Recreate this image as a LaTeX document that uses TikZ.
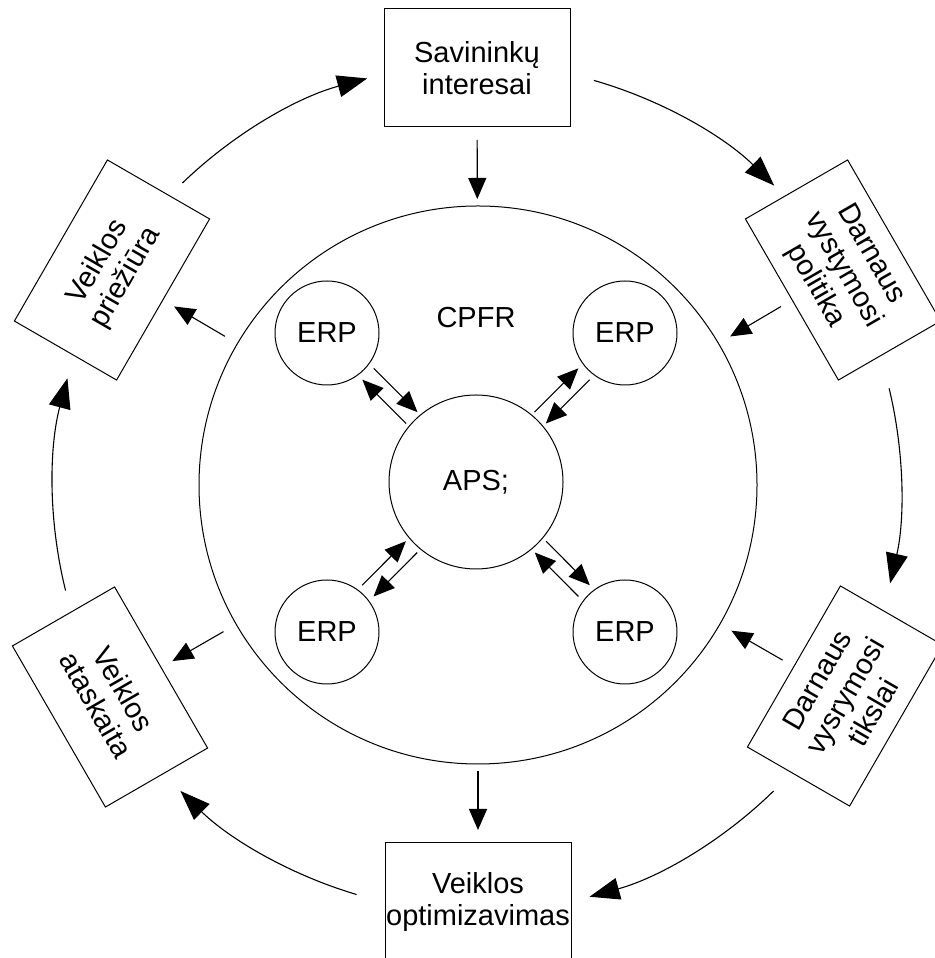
\documentclass[tikz,border=0pt]{standalone}
\usepackage{fontspec}
\setmainfont{Liberation Sans}
\usetikzlibrary{arrows.meta,calc}
\begin{document}
\begin{tikzpicture}[x=1pt,y=1pt,
  box/.style={draw, line width=1pt, minimum width=186pt, minimum height=118pt, align=center, inner sep=0pt, font=\fontsize{29}{32}\selectfont},
  circ/.style={draw, circle, line width=1pt, inner sep=0pt, font=\fontsize{29}{31}\selectfont},
  sa/.style={line width=1.1pt, -{Triangle[length=21pt,width=18pt]}},
  la/.style={line width=1.1pt, -{Triangle[length=30pt,width=22pt]}}]
\useasboundingbox (0,0) rectangle (934,958);
% outer boxes
\node[box] (b1) at (477,890) {Savininkų\\interesai};
\node[box, rotate=-60] (b2) at (843,688) {Darnaus\\vystymosi\\politika};
\node[box, rotate=60] (b3) at (845,262) {Darnaus\\vysrymosi\\tikslai};
\node[box] (b4) at (478,56) {Veiklos\\optimizavimas};
\node[box, rotate=-60] (b5) at (110,261) {Veiklos\\ataskaita};
\node[box, rotate=60] (b6) at (112,688) {Veiklos\\priežiūra};
% circles
\node[circ, minimum size=558pt] (big) at (478,473) {};
\node[font=\fontsize{29}{31}\selectfont] (cpfr) at (476,640) {CPFR};
\node[circ, minimum size=174pt] (aps) at (476,476) {APS;};
\node[circ, minimum size=104pt] (e1) at (327,625) {ERP};
\node[circ, minimum size=104pt] (e2) at (625,625) {ERP};
\node[circ, minimum size=104pt] (e3) at (327,326) {ERP};
\node[circ, minimum size=104pt] (e4) at (625,326) {ERP};
% ERP <-> APS arrows
\foreach \e in {e1,e2,e3,e4}{
  \draw[sa] ($(\e)!58pt!(aps)!8pt!90:(aps)$) -- ($(\e)!120pt!(aps)!8pt!90:(aps)$);
  \draw[sa] ($(\e)!120pt!(aps)!8pt!-90:(aps)$) -- ($(\e)!58pt!(aps)!8pt!-90:(aps)$);
}
% box <-> circle arrows
\foreach \b in {b1,b2,b3}{
  \draw[sa] ($(\b)!72pt!(big)$) -- ($(\b)!131pt!(big)$);
}
\foreach \b in {b4,b5,b6}{
  \draw[sa] ($(\b)!131pt!(big)$) -- ($(\b)!72pt!(big)$);
}
% outer cycle arcs
\coordinate (C) at (477,470);
\draw[la] ($(C)+(134:424)$) arc[start angle=134,end angle=105,radius=424];
\draw[la] ($(C)+(74:424)$) arc[start angle=74,end angle=45.5,radius=424];
\draw[la] ($(C)+(13.6:424)$) arc[start angle=13.6,end angle=-13,radius=424];
\draw[la] ($(C)+(-45.6:424)$) arc[start angle=-45.6,end angle=-74.6,radius=424];
\draw[la] ($(C)+(-106.5:424)$) arc[start angle=-106.5,end angle=-134.4,radius=424];
\draw[la] ($(C)+(194:424)$) arc[start angle=194,end angle=165,radius=424];
\end{tikzpicture}
\end{document}
